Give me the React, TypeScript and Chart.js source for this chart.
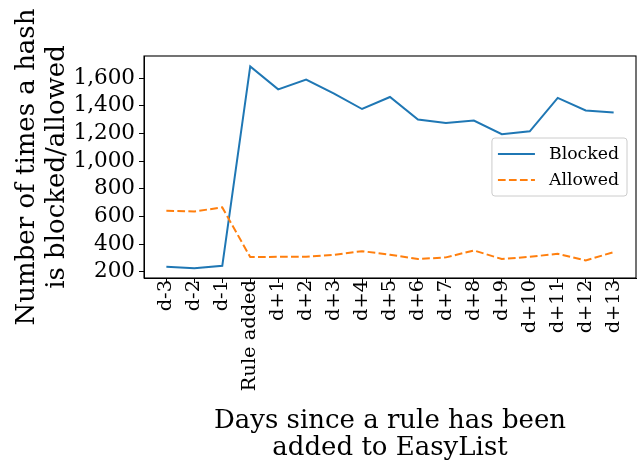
import { useEffect, useRef } from "react";
import { Chart, registerables } from "chart.js";

Chart.register(...registerables);

const categories = [
  "d-3", "d-2", "d-1", "Rule added", "d+1", "d+2", "d+3", "d+4", "d+5",
  "d+6", "d+7", "d+8", "d+9", "d+10", "d+11", "d+12", "d+13",
];
const blocked = [236, 225, 243, 1684, 1518, 1588, 1487, 1376, 1463, 1300, 1275, 1293, 1194, 1215, 1456, 1365, 1350];
const allowed = [640, 636, 665, 306, 308, 308, 323, 349, 323, 292, 304, 354, 292, 308, 330, 282, 342];
const yTicks = [200, 400, 600, 800, 1000, 1200, 1400, 1600];
const seriesNames = ["Blocked", "Allowed"];
const yTitle = ["Number of times a hash", "is blocked/allowed"];
const xTitle = ["Days since a rule has been", "added to EasyList"];

const FONT = "'DejaVu Serif', serif";

const framePlugin = {
  id: "frame",
  afterDatasetsDraw(chart: any) {
    const { ctx, chartArea } = chart;
    ctx.save();
    ctx.strokeStyle = "#000";
    ctx.lineWidth = 1.1;
    ctx.strokeRect(chartArea.left, chartArea.top, chartArea.right - chartArea.left, chartArea.bottom - chartArea.top);
    ctx.restore();
  },
};

const legendPlugin = {
  id: "mplLegend",
  afterDraw(chart: any) {
    const { ctx, chartArea } = chart;
    ctx.save();
    ctx.font = `17.3px ${FONT}`;
    const items = chart.data.datasets.map((d: any) => ({
      label: d.label,
      color: d.borderColor,
      dash: d.borderDash || [],
    }));
    const lineLen = 37;
    const gap = 14;
    const padL = 6;
    const padR = 8;
    const rowH = 26;
    const padY = 3;
    const textW = Math.max(...items.map((it: any) => ctx.measureText(it.label).width));
    const w = padL + lineLen + gap + textW + padR;
    const h = padY * 2 + rowH * items.length;
    const x = chartArea.right - 9 - w;
    const y = (chartArea.top + chartArea.bottom) / 2 - h / 2;
    ctx.beginPath();
    const r = 3;
    ctx.moveTo(x + r, y);
    ctx.lineTo(x + w - r, y);
    ctx.quadraticCurveTo(x + w, y, x + w, y + r);
    ctx.lineTo(x + w, y + h - r);
    ctx.quadraticCurveTo(x + w, y + h, x + w - r, y + h);
    ctx.lineTo(x + r, y + h);
    ctx.quadraticCurveTo(x, y + h, x, y + h - r);
    ctx.lineTo(x, y + r);
    ctx.quadraticCurveTo(x, y, x + r, y);
    ctx.closePath();
    ctx.fillStyle = "rgba(255,255,255,0.8)";
    ctx.fill();
    ctx.strokeStyle = "#cccccc";
    ctx.lineWidth = 1;
    ctx.stroke();
    items.forEach((it: any, i: number) => {
      const cy = y + padY + rowH * (i + 0.5);
      ctx.beginPath();
      ctx.setLineDash(it.dash);
      ctx.strokeStyle = it.color;
      ctx.lineWidth = 2;
      ctx.moveTo(x + padL, cy);
      ctx.lineTo(x + padL + lineLen, cy);
      ctx.stroke();
      ctx.setLineDash([]);
      ctx.fillStyle = "#000";
      ctx.textAlign = "left";
      ctx.textBaseline = "middle";
      ctx.fillText(it.label, x + padL + lineLen + gap, cy + 1);
    });
    ctx.restore();
  },
};

export default function App() {
  const ref = useRef<HTMLCanvasElement>(null);
  useEffect(() => {
    document.body.style.margin = "0";
    const canvas = ref.current!;
    const chart = new Chart(canvas, {
      type: "line",
      data: {
        datasets: [
          {
            label: seriesNames[0],
            data: blocked.map((v, i) => ({ x: i, y: v })),
            borderColor: "#1f77b4",
            backgroundColor: "#1f77b4",
            borderWidth: 2,
            pointRadius: 0,
            tension: 0,
            order: 1,
          },
          {
            label: seriesNames[1],
            data: allowed.map((v, i) => ({ x: i, y: v })),
            borderColor: "#ff7f0e",
            backgroundColor: "#ff7f0e",
            borderWidth: 2,
            borderDash: [7.7, 3.3],
            pointRadius: 0,
            tension: 0,
            order: 0,
          },
        ],
      },
      options: {
        animation: false,
        responsive: false,
        devicePixelRatio: 1,
        layout: { padding: { top: 56, right: 2, left: 0, bottom: 0 } },
        plugins: {
          legend: { display: false },
          tooltip: { enabled: false },
        },
        scales: {
          x: {
            type: "linear",
            min: -0.8,
            max: 16.8,
            afterBuildTicks: (s: any) => {
              s.ticks = categories.map((_, i) => ({ value: i }));
            },
            afterFit: (s: any) => {
              s.height = 184;
            },
            ticks: {
              autoSkip: false,
              maxRotation: 90,
              minRotation: 90,
              padding: -3,
              color: "#000",
              font: { family: FONT, size: 19.4 },
              callback: (v: any) => categories[v as number] ?? "",
            },
            grid: { drawOnChartArea: false, drawTicks: true, tickLength: 5, color: "#000", tickWidth: 1 },
            border: { display: true, color: "#000", width: 1 },
            title: {
              display: true,
              text: xTitle,
              color: "#000",
              font: { family: FONT, size: 26, lineHeight: 1.05 },
              padding: { top: 0, bottom: 0 },
            },
          },
          y: {
            type: "linear",
            min: 155,
            max: 1759,
            afterBuildTicks: (s: any) => {
              s.ticks = yTicks.map((v) => ({ value: v }));
            },
            afterFit: (s: any) => {
              s.width = 144;
            },
            ticks: {
              padding: 4,
              color: "#000",
              font: { family: FONT, size: 21.5 },
              callback: (v: any) => Number(v).toLocaleString("en-US"),
            },
            grid: { drawOnChartArea: false, drawTicks: true, tickLength: 5, color: "#000", tickWidth: 1 },
            border: { display: true, color: "#000", width: 1 },
            title: {
              display: true,
              text: yTitle,
              color: "#000",
              font: { family: FONT, size: 26, lineHeight: 1.15 },
              padding: { top: 12, bottom: 0 },
            },
          },
        },
      },
      plugins: [framePlugin, legendPlugin],
    });
    return () => chart.destroy();
  }, []);
  return (
    <div style={{ width: 638, height: 462 }}>
      <canvas ref={ref} width={638} height={462} />
    </div>
  );
}
